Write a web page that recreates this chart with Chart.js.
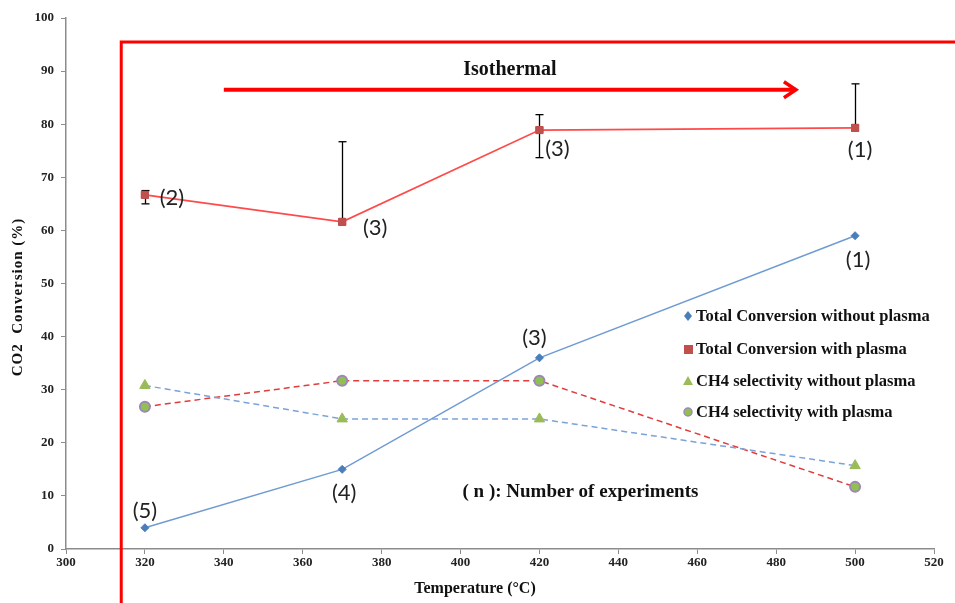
<!DOCTYPE html>
<html>
<head>
<meta charset="utf-8">
<script src="https://cdn.jsdelivr.net/npm/chart.js@4/dist/chart.umd.min.js"></script>
<style>
html,body{margin:0;padding:0;background:#fff;}
#wrap{width:955px;height:603px;position:relative;}
</style>
</head>
<body>
<div id="wrap"><canvas id="c" width="955" height="603"></canvas></div>
<script>
const temps = [320, 370, 420, 500];
const convNoPlasma = [4, 15, 36, 59];
const convPlasma = [66.7, 61.6, 78.9, 79.3];
const errPlasmaHigh = [67.5, 76.7, 81.8, 87.6];
const errPlasmaLow = [65.0, 61.6, 73.7, 79.3];
const ch4NoPlasma = [30.8, 24.5, 24.5, 15.7];
const ch4Plasma = [26.8, 31.7, 31.7, 11.7];
const nLabelsPlasma = ['(2)', '(3)', '(3)', '(1)'];
const nLabelsNoPlasma = ['(5)', '(4)', '(3)', '(1)'];
const seriesNames = ['Total Conversion without plasma', 'Total Conversion with plasma', 'CH4 selectivity without plasma', 'CH4 selectivity with plasma'];
const xTicks = [300, 320, 340, 360, 380, 400, 420, 440, 460, 480, 500, 520];
const yTicks = [0, 10, 20, 30, 40, 50, 60, 70, 80, 90, 100];

const pts = (ys) => temps.map((t, i) => ({x: t, y: ys[i]}));
const serif = '"Liberation Serif", "Times New Roman", serif';

const overlay = {
  id: 'overlay',
  afterDatasetsDraw(chart) {
    const ctx = chart.ctx, xs = chart.scales.x, ys = chart.scales.y;
    ctx.save();
    // error bars
    ctx.strokeStyle = '#000'; ctx.lineWidth = 1.3;
    temps.forEach((t, i) => {
      const px = Math.round(xs.getPixelForValue(t)) + 0.5;
      const hi = ys.getPixelForValue(errPlasmaHigh[i]);
      const lo = ys.getPixelForValue(errPlasmaLow[i]);
      ctx.beginPath(); ctx.moveTo(px, hi); ctx.lineTo(px, lo); ctx.stroke();
      if (errPlasmaHigh[i] > convPlasma[i]) { ctx.beginPath(); ctx.moveTo(px - 4, hi); ctx.lineTo(px + 4, hi); ctx.stroke(); }
      if (errPlasmaLow[i] < convPlasma[i]) { ctx.beginPath(); ctx.moveTo(px - 4, lo); ctx.lineTo(px + 4, lo); ctx.stroke(); }
    });
    const meta = chart.getDatasetMeta(1);
    meta.data.forEach(el => el.draw(ctx));
    // red frame
    ctx.strokeStyle = '#ff0000'; ctx.lineWidth = 3;
    const fx = xs.getPixelForValue(314);
    const fy = ys.getPixelForValue(95.5);
    ctx.beginPath(); ctx.moveTo(fx, 610); ctx.lineTo(fx, fy); ctx.lineTo(960, fy); ctx.stroke();
    // arrow
    const ay = ys.getPixelForValue(86.5);
    const ax1 = xs.getPixelForValue(340), ax2 = xs.getPixelForValue(485);
    ctx.lineWidth = 4;
    ctx.beginPath(); ctx.moveTo(ax1, ay); ctx.lineTo(ax2, ay); ctx.stroke();
    ctx.lineWidth = 3.5;
    ctx.beginPath(); ctx.moveTo(ax2 - 12, ay - 8); ctx.lineTo(ax2, ay); ctx.lineTo(ax2 - 12, ay + 8); ctx.stroke();
    // texts
    ctx.fillStyle = '#111';
    ctx.font = 'bold 20px ' + serif;
    ctx.textAlign = 'center'; ctx.textBaseline = 'middle';
    ctx.fillText('Isothermal', xs.getPixelForValue(412.5), ys.getPixelForValue(90.3));
    ctx.textAlign = 'left';
    ctx.font = 'bold 19px ' + serif;
    ctx.fillText('( n ): Number of experiments', xs.getPixelForValue(400.5), ys.getPixelForValue(10.7));
    // n labels
    ctx.font = '22px Lato, "Open Sans", sans-serif';
    ctx.fillStyle = '#222';
    ctx.textAlign = 'center';
    const offP = [[27, 3], [33, 6], [18, 19], [5, 22]];
    temps.forEach((t, i) => {
      const px = xs.getPixelForValue(t), py = ys.getPixelForValue(convPlasma[i]);
      ctx.fillText(nLabelsPlasma[i], px + offP[i][0], py + offP[i][1]);
    });
    const offN = [[0, -17], [2, 24], [-5, -20], [3, 24]];
    temps.forEach((t, i) => {
      const px = xs.getPixelForValue(t), py = ys.getPixelForValue(convNoPlasma[i]);
      ctx.fillText(nLabelsNoPlasma[i], px + offN[i][0], py + offN[i][1]);
    });
    // legend
    const lx = 688, ly = [316, 349, 381, 412];
    ctx.font = 'bold 16.5px ' + serif;
    ctx.textAlign = 'left';
    chart.data.datasets.forEach((ds, i) => {
      const y = ly[i];
      ctx.fillStyle = ds.pointBackgroundColor; ctx.strokeStyle = ds.pointBorderColor; ctx.lineWidth = 1.5;
      ctx.beginPath();
      if (i === 0) { ctx.moveTo(lx, y - 5); ctx.lineTo(lx + 4, y); ctx.lineTo(lx, y + 5); ctx.lineTo(lx - 4, y); ctx.closePath(); ctx.fill(); }
      else if (i === 1) { ctx.fillRect(lx - 4, y - 4, 9, 9); }
      else if (i === 2) { ctx.moveTo(lx, y - 5); ctx.lineTo(lx + 5, y + 4); ctx.lineTo(lx - 5, y + 4); ctx.closePath(); ctx.fill(); }
      else { ctx.arc(lx, y, 4, 0, Math.PI * 2); ctx.fill(); ctx.stroke(); }
      ctx.fillStyle = '#111';
      ctx.fillText(seriesNames[i], lx + 8, y + 1);
    });
    // axis titles
    ctx.font = 'bold 16px ' + serif;
    ctx.textAlign = 'center';
    ctx.fillText('Temperature (°C)', 475, 589);
    ctx.save();
    ctx.translate(18, 297);
    ctx.rotate(-Math.PI / 2);
    ctx.font = 'bold 15px ' + serif;
    ctx.letterSpacing = '1px';
    ctx.fillText('CO2  Conversion (%)', 0, 0);
    ctx.restore();
    ctx.restore();
  }
};

new Chart(document.getElementById('c'), {
  type: 'scatter',
  data: {
    datasets: [
      { label: seriesNames[0], data: pts(convNoPlasma), showLine: true, borderColor: '#6f9bd3', borderWidth: 1.5,
        pointStyle: 'rectRot', pointRadius: 4, pointBackgroundColor: '#4a7ebb', pointBorderColor: '#4a7ebb', pointBorderWidth: 1 },
      { label: seriesNames[1], data: pts(convPlasma), showLine: true, borderColor: '#ff4a4a', borderWidth: 1.8,
        pointStyle: 'rect', pointRadius: 5, pointBackgroundColor: '#c0504d', pointBorderColor: '#c0504d', pointBorderWidth: 1 },
      { label: seriesNames[2], data: pts(ch4NoPlasma), showLine: true, borderColor: '#7ba3d9', borderWidth: 1.5, borderDash: [6, 4],
        pointStyle: 'triangle', pointRadius: 6, pointBackgroundColor: '#9bbb59', pointBorderColor: '#9bbb59', pointBorderWidth: 1 },
      { label: seriesNames[3], data: pts(ch4Plasma), showLine: true, borderColor: '#e03c3c', borderWidth: 1.5, borderDash: [6, 4],
        pointStyle: 'circle', pointRadius: 5, pointBackgroundColor: '#92c050', pointBorderColor: '#9c88b8', pointBorderWidth: 2 }
    ]
  },
  options: {
    responsive: false,
    animation: false,
    layout: { padding: { top: 18, right: 21, left: 0, bottom: 0 } },
    plugins: { legend: { display: false }, tooltip: { enabled: false } },
    scales: {
      x: {
        type: 'linear', min: 300, max: 520,
        afterBuildTicks: (s) => { s.ticks = xTicks.map(v => ({value: v})); },
        afterFit: (s) => { s.height = 54; },
        grid: { display: true, drawOnChartArea: false, drawTicks: true, tickLength: 5, color: '#8c8c8c' },
        border: { color: '#8c8c8c', width: 1.5 },
        ticks: { color: '#222', font: { family: serif, size: 13, weight: 'bold' }, padding: 1, maxRotation: 0 },
        title: { display: false }
      },
      y: {
        type: 'linear', min: 0, max: 100,
        afterBuildTicks: (s) => { s.ticks = yTicks.map(v => ({value: v})); },
        afterFit: (s) => { s.width = 66; },
        grid: { display: true, drawOnChartArea: false, drawTicks: true, tickLength: 5, color: '#8c8c8c' },
        border: { color: '#8c8c8c', width: 1.5 },
        ticks: { color: '#222', font: { family: serif, size: 13, weight: 'bold' }, padding: 7 },
        title: { display: false }
      }
    }
  },
  plugins: [overlay]
});
</script>
</body>
</html>
